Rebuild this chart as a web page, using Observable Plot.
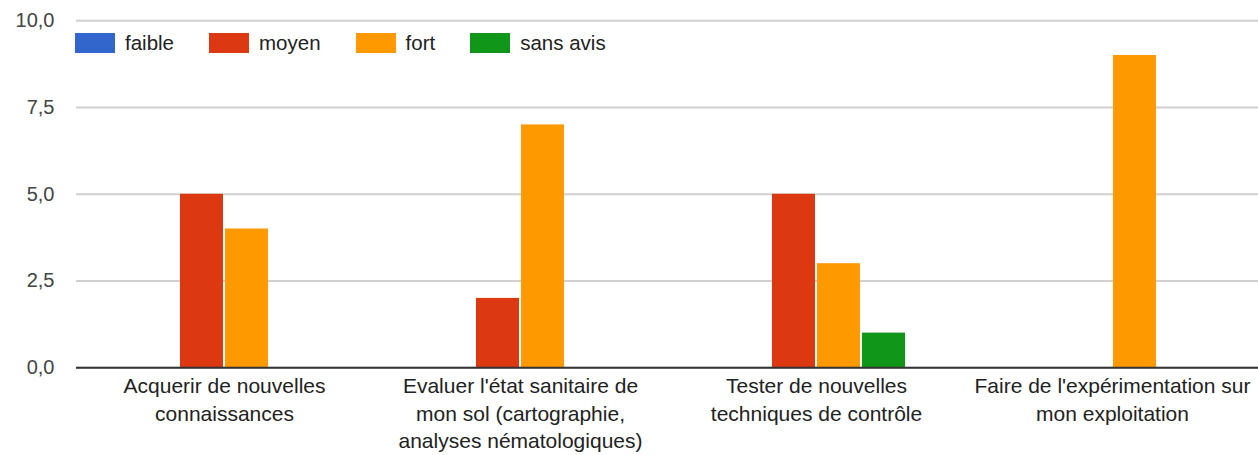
<!DOCTYPE html>
<html><head><meta charset="utf-8">
<script src="https://cdn.jsdelivr.net/npm/d3@7"></script>
<script src="https://cdn.jsdelivr.net/npm/@observablehq/plot@0.6"></script>
<style>
html,body{margin:0;padding:0;background:#fff;}
#wrap{position:relative;width:1258px;height:455px;font-family:"Liberation Sans",Arial,sans-serif;overflow:hidden;}
#wrap svg{display:block;}
#legend{position:absolute;left:75px;top:33px;display:flex;align-items:center;font-size:20.5px;color:#222;line-height:20px;}
.item{display:flex;align-items:center;margin-right:35px;}
.sw{width:40px;height:20px;margin-right:10px;}
</style></head><body><div id="wrap"><div id="legend"></div></div>
<script>
const categories = [
  "Acquerir de nouvelles connaissances",
  "Evaluer l'état sanitaire de mon sol (cartographie, analyses nématologiques)",
  "Tester de nouvelles techniques de contrôle",
  "Faire de l'expérimentation sur mon exploitation"
];
const tickLabels = [
  "Acquerir de nouvelles\nconnaissances",
  "Evaluer l'état sanitaire de\nmon sol (cartographie,\nanalyses nématologiques)",
  "Tester de nouvelles\ntechniques de contrôle",
  "Faire de l'expérimentation sur\nmon exploitation"
];
const series = ["faible", "moyen", "fort", "sans avis"];
const colors = ["#3366cc", "#dc3912", "#ff9900", "#109618"];
const faible = [0, 0, 0, 0];
const moyen = [5, 2, 5, 0];
const fort = [4, 7, 3, 9];
const sansAvis = [0, 0, 1, 0];
const yTicks = [0, 2.5, 5, 7.5, 10];

const valuesBySeries = [faible, moyen, fort, sansAvis];
const rows = [];
series.forEach((s, si) => categories.forEach((c, ci) => rows.push({category: c, series: s, value: valuesBySeries[si][ci]})));
const labelOf = new Map(categories.map((c, i) => [c, tickLabels[i]]));

const legend = document.getElementById("legend");
series.forEach((s, i) => {
  const it = document.createElement("div"); it.className = "item";
  const sw = document.createElement("div"); sw.className = "sw"; sw.style.background = colors[i];
  const tx = document.createElement("span"); tx.textContent = s;
  it.appendChild(sw); it.appendChild(tx); legend.appendChild(it);
});

const chart = Plot.plot({
  width: 1258,
  height: 455,
  marginLeft: 75,
  marginRight: 0,
  marginTop: 20,
  marginBottom: 88,
  style: {fontFamily: '"Liberation Sans", Arial, sans-serif', background: "#fff", overflow: "hidden"},
  fx: {domain: categories, padding: 0, range: [75.2, 1261.6], label: null},
  x: {domain: series, paddingInner: 0.05, paddingOuter: 1.249, axis: null},
  y: {domain: [0, 10], range: [367.3, 20.3], label: null},
  color: {domain: series, range: colors},
  marks: [
    Plot.gridY(yTicks, {stroke: "#d0d0d0", strokeOpacity: 1, strokeWidth: 2}),
    Plot.barY(rows.filter(d => d.value > 0), {fx: "category", x: "series", y: "value", fill: "series"}),
    Plot.ruleY([0], {stroke: "#333333", strokeWidth: 2}),
    Plot.axisY(yTicks, {tickSize: 0, tickPadding: 22, fontSize: 20, fill: "#444444",
      tickFormat: d => d.toFixed(1).replace(".", ","), label: null}),
    Plot.axisFx({anchor: "bottom", tickSize: 0, tickPadding: 6, fontSize: 21, fill: "#222222",
      lineHeight: 1.31, tickFormat: d => labelOf.get(d), label: null})
  ]
});
document.getElementById("wrap").appendChild(chart);
</script></body></html>
